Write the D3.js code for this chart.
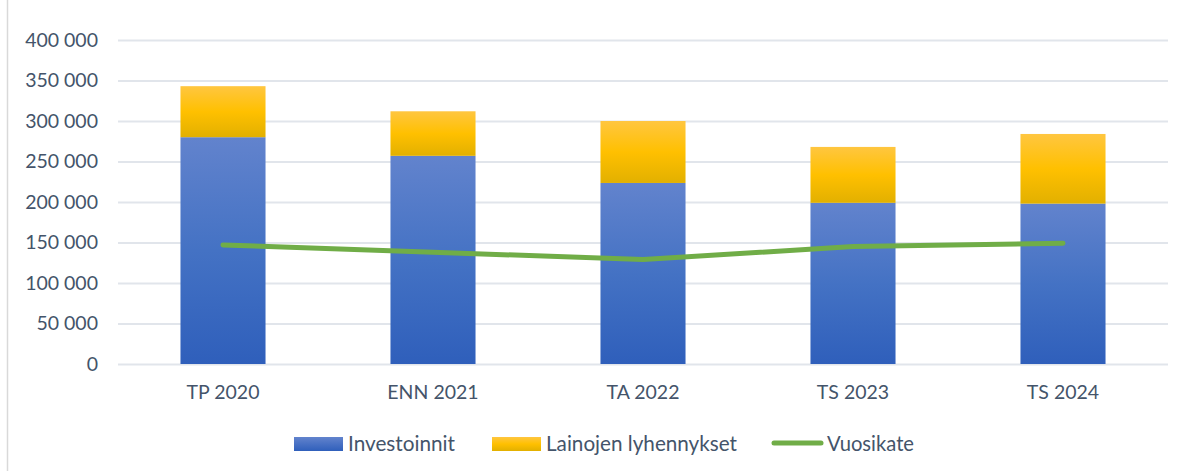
<!DOCTYPE html>
<html><head><meta charset="utf-8">
<script src="https://cdn.jsdelivr.net/npm/d3@7"></script>
<style>body{margin:0;background:#fff}svg{display:block}</style>
</head><body>
<script>
const categories = ["TP 2020","ENN 2021","TA 2022","TS 2023","TS 2024"];
const investoinnit = [280000,257000,223500,199000,198000];
const lainojen = [63000,55000,76500,69000,86000];
const vuosikate = [147000,138000,129000,145000,149000];
const yTicks = [0,50000,100000,150000,200000,250000,300000,350000,400000];
const seriesNames = ["Investoinnit","Lainojen lyhennykset","Vuosikate"];

const W=1186,H=471;
const m={left:118,right:18,top:40,bottom:107};
const font="Lato, 'Open Sans', sans-serif";
const txt="#44546A";
const svg=d3.select("body").append("svg").attr("width",W).attr("height",H);
const defs=svg.append("defs");
const gb=defs.append("linearGradient").attr("id","gBlue").attr("x1",0).attr("x2",0).attr("y1",0).attr("y2",1);
gb.append("stop").attr("offset","0%").attr("stop-color","#6283cd");
gb.append("stop").attr("offset","50%").attr("stop-color","#4472c4");
gb.append("stop").attr("offset","100%").attr("stop-color","#2f5fbb");
const gy=defs.append("linearGradient").attr("id","gYel").attr("x1",0).attr("x2",0).attr("y1",0).attr("y2",1);
gy.append("stop").attr("offset","0%").attr("stop-color","#ffc640");
gy.append("stop").attr("offset","50%").attr("stop-color","#ffc000");
gy.append("stop").attr("offset","100%").attr("stop-color","#e2b000");
const gbl=defs.append("linearGradient").attr("id","gBlueL").attr("x1",0).attr("x2",0).attr("y1",0).attr("y2",1);
gbl.append("stop").attr("offset","0%").attr("stop-color","#6283cd");
gbl.append("stop").attr("offset","100%").attr("stop-color","#2f5fbb");

svg.append("line").attr("x1",7.5).attr("x2",7.5).attr("y1",0).attr("y2",H).attr("stroke","#d9d9d9").attr("stroke-width",1.5);

const x=d3.scaleBand().domain(categories).range([m.left,W-m.right]).paddingInner(0.595).paddingOuter(0.2975);
const y=d3.scaleLinear().domain([0,400000]).range([H-m.bottom,m.top]);

const fmt=d=>d3.format(",")(d).replace(/,/g," ");
const ya=svg.append("g").attr("transform",`translate(${m.left},0)`)
  .call(d3.axisLeft(y).tickValues(yTicks).tickFormat(fmt).tickSize(-(W-m.left-m.right)).tickPadding(20));
ya.select(".domain").remove();
ya.selectAll(".tick line").attr("stroke","#e1e5eb").attr("stroke-width",2);
ya.selectAll(".tick text").attr("fill",txt).style("font-family",font).style("font-size","19.5px");

const xa=svg.append("g").attr("transform",`translate(0,${H-m.bottom})`)
  .call(d3.axisBottom(x).tickSize(0).tickPadding(21));
xa.select(".domain").remove();
xa.selectAll(".tick text").attr("fill",txt).style("font-family",font).style("font-size","19.5px");

svg.append("g").selectAll("rect").data(categories).join("rect")
  .attr("x",d=>x(d)).attr("width",x.bandwidth())
  .attr("y",(d,i)=>y(investoinnit[i])).attr("height",(d,i)=>y(0)-y(investoinnit[i]))
  .attr("fill","url(#gBlue)");
svg.append("g").selectAll("rect").data(categories).join("rect")
  .attr("x",d=>x(d)).attr("width",x.bandwidth())
  .attr("y",(d,i)=>y(investoinnit[i]+lainojen[i])).attr("height",(d,i)=>y(investoinnit[i])-y(investoinnit[i]+lainojen[i]))
  .attr("fill","url(#gYel)");

const line=d3.line().x((d,i)=>x(categories[i])+x.bandwidth()/2).y(d=>y(d));
svg.append("path").datum(vuosikate).attr("d",line).attr("fill","none")
  .attr("stroke","#70ad47").attr("stroke-width",5).attr("stroke-linecap","round").attr("stroke-linejoin","round");

// legend
const lg=svg.append("g").style("font-family",font).style("font-size","20.5px");
const ly=444;
const items=[{x:294,t:seriesNames[0],k:"b",tw:107},{x:492,t:seriesNames[1],k:"y",tw:191},{x:772,t:seriesNames[2],k:"l",tw:87}];
items.forEach(it=>{
  if(it.k==="l"){
    lg.append("line").attr("x1",it.x+2).attr("x2",it.x+49).attr("y1",ly-1).attr("y2",ly-1)
      .attr("stroke","#70ad47").attr("stroke-width",5).attr("stroke-linecap","round");
  } else {
    lg.append("rect").attr("x",it.x).attr("y",ly-7).attr("width",49).attr("height",14)
      .attr("fill",it.k==="b"?"url(#gBlueL)":"url(#gYel)");
  }
  lg.append("text").attr("x",it.x+(it.k==="l"?55:54)).attr("y",ly).attr("dy","0.35em")
    .attr("textLength",it.tw).attr("lengthAdjust","spacingAndGlyphs").attr("fill",txt).text(it.t);
});
</script>
</body></html>
